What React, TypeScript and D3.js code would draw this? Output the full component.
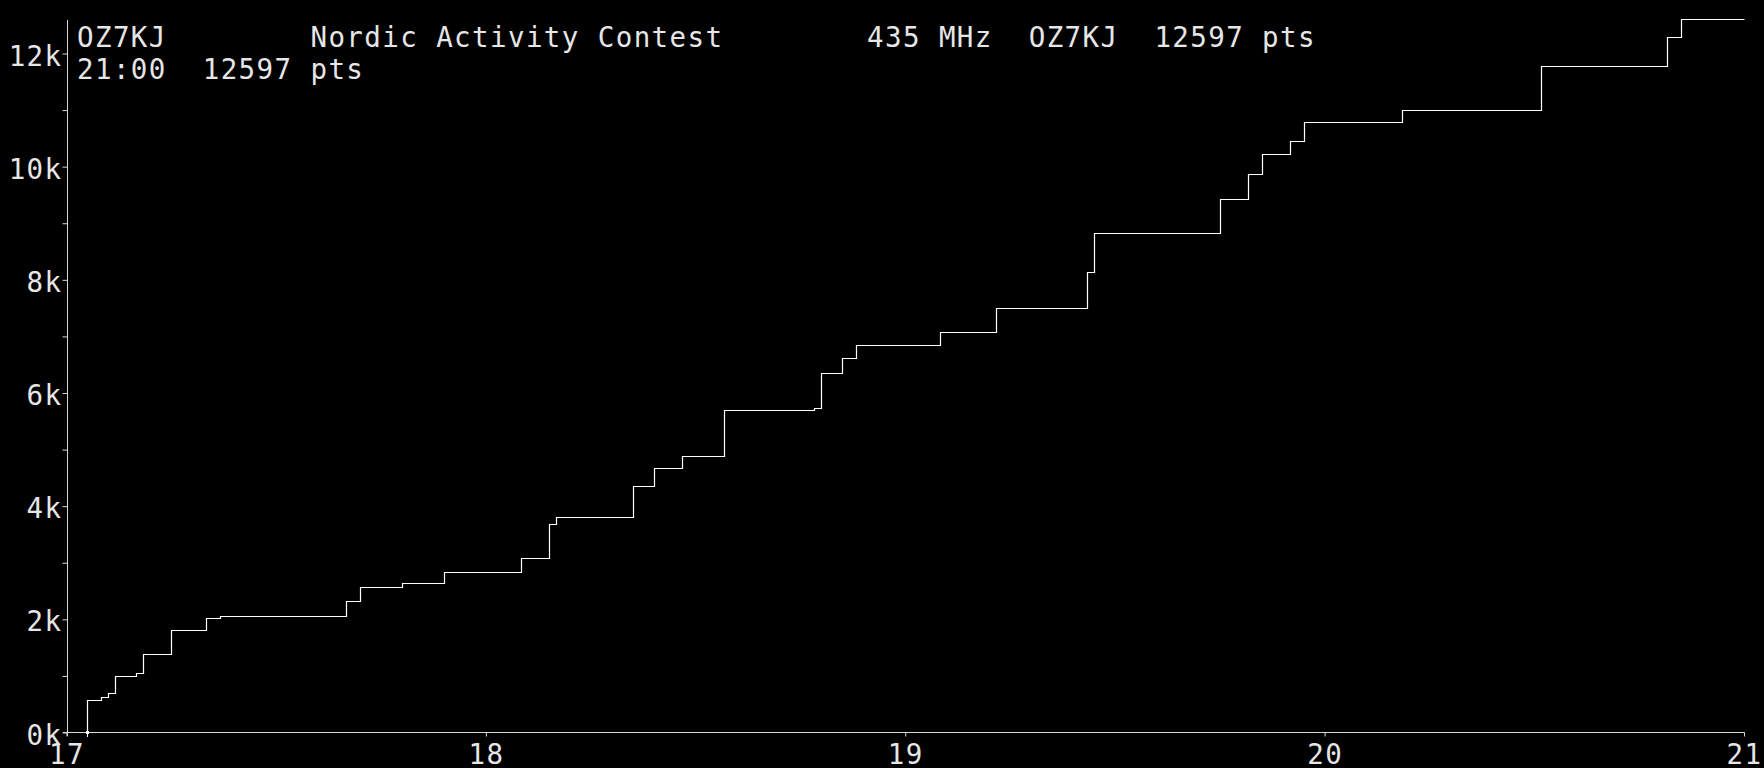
import React, { useEffect, useRef } from "react";
import * as d3 from "d3";

// contest log: minutes after 17:00 and the running score at that time
const minutes = [3, 3, 5, 6, 7, 10, 11, 15, 20, 22, 40, 42, 48, 54, 65, 69, 70, 81, 84, 88, 94,
  107, 108, 111, 113, 125, 133, 146, 147, 165, 169, 171, 175, 177, 191, 211, 229, 231, 240];
const scores = [0, 560, 618, 689, 984, 1037, 1372, 1796, 2008, 2044, 2309, 2556, 2627, 2821, 3074,
  3669, 3793, 4341, 4659, 4871, 5684, 5719, 6337, 6602, 6832, 7062, 7486, 8127, 8811, 9412, 9859,
  10207, 10436, 10772, 10984, 11779, 12291, 12597, 12597];

const hourTicks = [0, 60, 120, 180, 240];
const hourLabels = ["17", "18", "19", "20", "21"];
const scoreTicks = [0, 1000, 2000, 3000, 4000, 5000, 6000, 7000, 8000, 9000, 10000, 11000, 12000];

const headerLine1 = "OZ7KJ        Nordic Activity Contest        435 MHz  OZ7KJ  12597 pts";
const headerLine2 = "21:00  12597 pts";

const W = 1764;
const H = 768;
const FONT = "'DejaVu Sans Mono', monospace";
const TEXT = "#e6e6e6";
const AXIS = "#d8d8d8";

export default function App() {
  const ref = useRef<SVGSVGElement>(null);

  useEffect(() => {
    const svg = d3.select(ref.current);
    svg.selectAll("*").remove();

    const x = d3.scaleLinear().domain([0, 240]).range([66.5, 1744]);
    const y = d3.scaleLinear().domain([0, 12000]).range([732, 53]);

    // y axis
    const axisLeft = svg
      .append("g")
      .attr("transform", "translate(67.5,0.5)")
      .call(
        d3
          .axisLeft(y)
          .tickValues(scoreTicks)
          .tickSize(5)
          .tickSizeOuter(0)
          .tickFormat((d) => ((d as number) % 2000 === 0 ? `${(d as number) / 1000}k` : ""))
      );
    axisLeft.select(".domain").remove();
    axisLeft.selectAll("line").attr("stroke", AXIS).attr("y1", 0).attr("y2", 0);
    axisLeft
      .selectAll("text")
      .attr("x", -5)
      .attr("dy", "0.42em")
      .style("fill", TEXT)
      .style("font-family", FONT)
      .style("font-size", "27.5px")
      .style("letter-spacing", "1.4px");
    svg
      .append("line")
      .attr("x1", 67.5)
      .attr("x2", 67.5)
      .attr("y1", 20)
      .attr("y2", 736)
      .attr("stroke", AXIS);

    // x axis
    const axisBottom = svg
      .append("g")
      .attr("transform", "translate(0,732.5)")
      .call(
        d3
          .axisBottom(x)
          .tickValues(hourTicks)
          .tickSize(4)
          .tickSizeOuter(0)
          .tickFormat((d, i) => hourLabels[i])
      );
    axisBottom.select(".domain").remove();
    axisBottom.selectAll("line").attr("stroke", AXIS);
    axisBottom
      .selectAll("text")
      .attr("y", 31)
      .attr("dy", 0)
      .style("fill", TEXT)
      .style("font-family", FONT)
      .style("font-size", "27.5px")
      .style("letter-spacing", "1.4px");
    svg
      .append("line")
      .attr("x1", 63)
      .attr("x2", 1744.5)
      .attr("y1", 732.5)
      .attr("y2", 732.5)
      .attr("stroke", AXIS);

    // score curve
    const data = minutes.map((m, i) => ({ m, s: scores[i] }));
    const line = d3
      .line<{ m: number; s: number }>()
      .x((d) => Math.round(x(d.m)) + 0.5)
      .y((d) => Math.round(y(d.s)) + 0.5)
      .curve(d3.curveStepAfter);
    svg
      .append("path")
      .datum(data)
      .attr("d", line)
      .attr("fill", "none")
      .attr("stroke", "#ffffff")
      .attr("stroke-width", 1.2);

    // start marker
    const sx = Math.round(x(minutes[0])) + 0.5;
    svg
      .append("rect")
      .attr("x", sx - 1.5)
      .attr("y", 731)
      .attr("width", 3)
      .attr("height", 3)
      .attr("fill", "#ffffff");
    svg
      .append("line")
      .attr("x1", sx)
      .attr("x2", sx)
      .attr("y1", 732)
      .attr("y2", 737)
      .attr("stroke", "#ffffff");

    // header text
    [headerLine1, headerLine2].forEach((t, i) => {
      svg
        .append("text")
        .attr("x", 77)
        .attr("y", 47 + i * 32)
        .text(t)
        .style("white-space", "pre")
        .style("fill", TEXT)
        .style("font-family", FONT)
        .style("font-size", "27.5px")
        .style("letter-spacing", "1.4px");
    });
  }, []);

  return (
    <div style={{ position: "fixed", left: 0, top: 0, width: W, height: H, background: "#000" }}>
      <svg ref={ref} width={W} height={H} style={{ display: "block" }} />
    </div>
  );
}
